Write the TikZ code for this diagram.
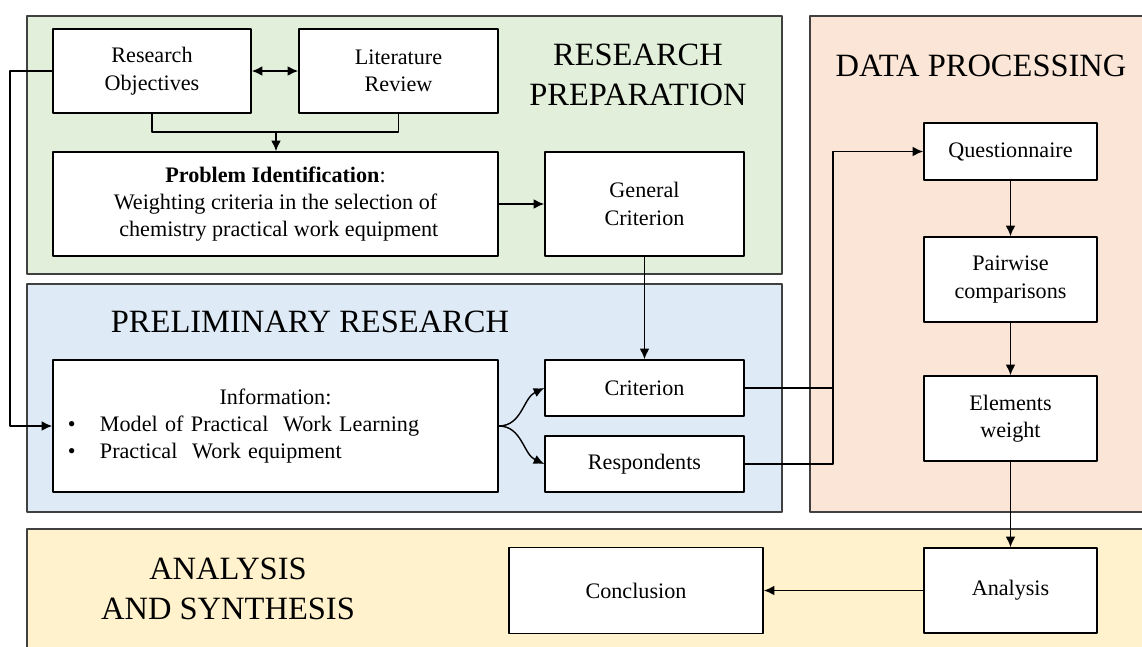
\documentclass[tikz,border=0pt]{standalone}
\usepackage{fontspec}
\setmainfont{Liberation Serif}
\usetikzlibrary{arrows.meta}

\begin{document}
\begin{tikzpicture}
% Research flow exported as pixel grid
\def\pxsz{0.02cm}
\providecommand{\flowPrepFill}{rgb,255:red,226;green,239;blue,218}
\providecommand{\flowPrelimFill}{rgb,255:red,222;green,235;blue,247}
\providecommand{\flowDataFill}{rgb,255:red,251;green,229;blue,214}
\providecommand{\flowSynthFill}{rgb,255:red,255;green,242;blue,204}
\providecommand{\flowPanelLine}{black!75}
\providecommand{\flowBoxLine}{black}
\begin{scope}[x=\pxsz, y=-\pxsz, line cap=round, line join=round,
  box/.style={draw=\flowBoxLine, line width=0.9pt, fill=white, inner sep=0pt, align=center,
    font=\rmfamily\fontsize{12.6}{15.6}\selectfont},
  title/.style={align=center, font=\rmfamily\fontsize{18.5}{22.5}\selectfont},
  >={Latex[length=6pt,width=5.5pt]},
  link/.style={line width=0.8pt}]
  \useasboundingbox (0,0) rectangle (1142,646);
  \clip (0,0) rectangle (1142,646);
  % Background
  \fill[white] (0,0) rectangle (1142,646);
  % Stage panels
  \begin{scope}[draw=\flowPanelLine, line width=0.7pt]
    \draw[fill=\flowPrepFill] (27,16) rectangle (782,274);
    \draw[fill=\flowPrelimFill] (27,284) rectangle (782,512);
    \draw[fill=\flowDataFill] (810,16) rectangle (1150,512);
    \draw[fill=\flowSynthFill] (27,529) rectangle (1150,660);
  \end{scope}
  % Stage titles
  \node[title] (tprep) at (638,75) {RESEARCH\\PREPARATION};
  \node[title] (tdata) at (981,66) {DATA PROCESSING};
  \node[title] (tprelim) at (310,322) {PRELIMINARY RESEARCH};
  \node[title] (tsynth) at (228,589) {ANALYSIS\\AND SYNTHESIS};
  % Research preparation
  \node[box, minimum width=198*\pxsz, minimum height=84*\pxsz] (ro) at (152,71) {Research\\Objectives};
  \node[box, minimum width=199*\pxsz, minimum height=84*\pxsz] (lr) at (398.5,71) {Literature\\Review};
  \node[box, minimum width=445*\pxsz, minimum height=104*\pxsz] (pi) at (275.5,204)
    {\textbf{Problem Identification}:\\Weighting criteria in the selection of\\\hspace*{0.3em}chemistry practical work equipment};
  \node[box, minimum width=199*\pxsz, minimum height=104*\pxsz] (gc) at (644.5,204) {General\\Criterion};
  % Preliminary research
  \node[box, minimum width=445*\pxsz, minimum height=132*\pxsz, text width=445*\pxsz, align=left] (info) at (275.5,426)
    {\makebox[\linewidth][c]{Information:}\\
     \hspace*{0.3cm}\makebox[0.64cm][l]{\textbullet}Model of Practical\ \ Work Learning\\
     \hspace*{0.3cm}\makebox[0.64cm][l]{\textbullet}Practical\ \ Work equipment};
  \node[box, minimum width=199*\pxsz, minimum height=56*\pxsz] (crit) at (644.5,388) {Criterion};
  \node[box, minimum width=199*\pxsz, minimum height=56*\pxsz] (resp) at (644.5,464) {Respondents};
  % Data processing
  \node[box, minimum width=173*\pxsz, minimum height=57*\pxsz] (quest) at (1010.5,151.5) {Questionnaire};
  \node[box, minimum width=173*\pxsz, minimum height=85*\pxsz] (pair) at (1010.5,279.5) {Pairwise\\comparisons};
  \node[box, minimum width=173*\pxsz, minimum height=85*\pxsz] (elem) at (1010.5,418.5) {Elements\\weight};
  % Analysis and synthesis
  \node[box, minimum width=173*\pxsz, minimum height=85*\pxsz] (anal) at (1010.5,590.5) {Analysis};
  \node[box, minimum width=254*\pxsz, minimum height=86*\pxsz] (concl) at (636,590.5) {Conclusion};
  % Connectors
  \coordinate (merge) at (276,132);
  \coordinate (back) at (10,0);
  \coordinate (join) at (833,0);
  \draw[link, <->] (ro) -- (lr);
  \draw[link] (ro.south) |- (merge) -| (lr.south);
  \draw[link, ->] (merge) -- (merge |- pi.north);
  \draw[link, ->] (pi) -- (gc);
  \draw[link, ->] (gc) -- (crit);
  \draw[link, ->] (ro.west) -- (ro.west -| back) |- (info.west);
  \draw[link, ->] (info.east) to[out=0, in=205] (crit.west);
  \draw[link, ->] (info.east) to[out=0, in=155] (resp.west);
  \draw[link, ->] (crit.east) -- (crit.east -| join) |- (quest.west);
  \draw[link] (resp.east) -- (resp.east -| join) -- (crit.east -| join);
  \draw[link, ->] (quest) -- (pair);
  \draw[link, ->] (pair) -- (elem);
  \draw[link, ->] (elem) -- (anal);
  \draw[link, ->] (anal) -- (concl);
\end{scope}
\end{tikzpicture}
\end{document}
